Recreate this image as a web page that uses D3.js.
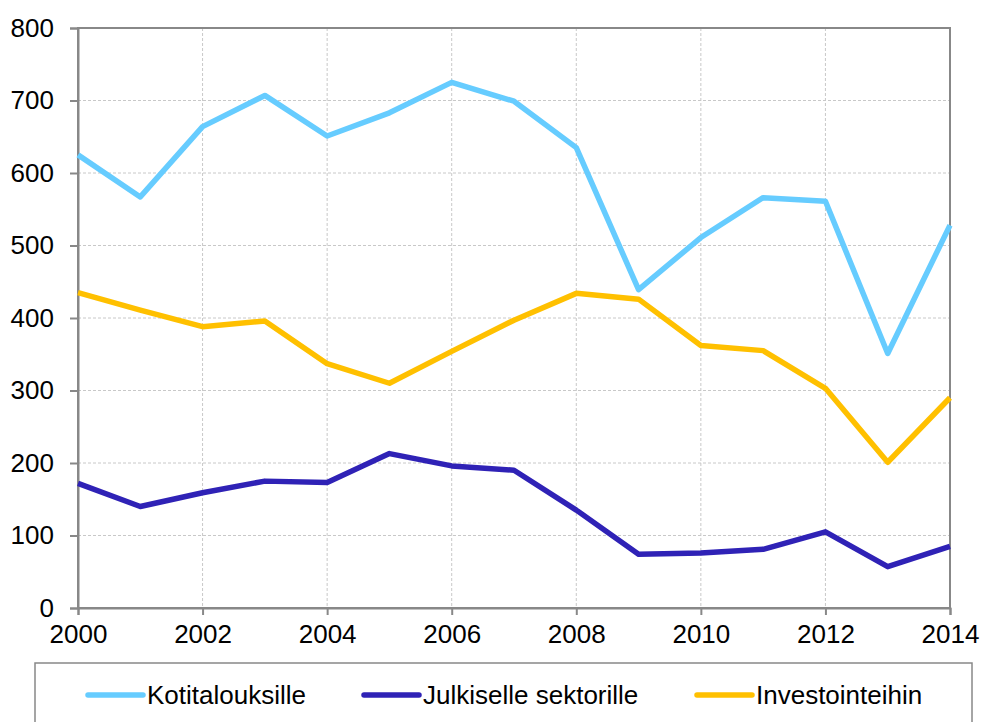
<!DOCTYPE html>
<html>
<head>
<meta charset="utf-8">
<script src="https://cdn.jsdelivr.net/npm/d3@7"></script>
<style>
  body { margin: 0; background: #fff; }
  svg { display: block; font-family: "Liberation Sans", Arial, sans-serif; }
</style>
</head>
<body>
<svg id="chart" width="982" height="722"></svg>
<script>
var years = [2000, 2001, 2002, 2003, 2004, 2005, 2006, 2007, 2008, 2009, 2010, 2011, 2012, 2013, 2014];
var kotitaloudet = [625, 567, 664, 707, 651, 683, 725, 699, 635, 439, 511, 566, 561, 351, 528];
var julkinen = [172, 140, 159, 175, 173, 213, 196, 190, 135, 74, 76, 81, 105, 57, 85];
var investoinnit = [435, 411, 388, 396, 337, 310, 354, 397, 434, 426, 362, 355, 303, 201, 290];
var seriesNames = ['Kotitalouksille', 'Julkiselle sektorille', 'Investointeihin'];
var seriesColors = ['#66CCFF', '#2F22B6', '#FFC000'];
var yTicks = [0, 100, 200, 300, 400, 500, 600, 700, 800];
var xTicks = [2000, 2002, 2004, 2006, 2008, 2010, 2012, 2014];

(function () {
  var svg = d3.select('#chart');
  var pLeft = 78, pRight = 950, pTop = 28, pBottom = 608;

  var x = d3.scaleLinear().domain([2000, 2014]).range([pLeft, pRight]);
  var y = d3.scaleLinear().domain([0, 800]).range([pBottom, pTop]);

  // grid
  svg.append('g')
    .selectAll('line')
    .data(yTicks.slice(1))
    .enter()
    .append('line')
    .attr('x1', pLeft).attr('x2', pRight)
    .attr('y1', function(d) { return y(d); })
    .attr('y2', function(d) { return y(d); })
    .attr('stroke', '#c8c8c8')
    .attr('stroke-dasharray', '3,2');
  svg.append('g')
    .selectAll('line')
    .data(xTicks.slice(1))
    .enter()
    .append('line')
    .attr('y1', pTop).attr('y2', pBottom)
    .attr('x1', function(d) { return x(d); })
    .attr('x2', function(d) { return x(d); })
    .attr('stroke', '#c8c8c8')
    .attr('stroke-dasharray', '3,2');

  // frame
  svg.append('rect')
    .attr('x', pLeft).attr('y', pTop)
    .attr('width', pRight - pLeft).attr('height', pBottom - pTop)
    .attr('fill', 'none')
    .attr('stroke', '#888')
    .attr('stroke-width', 2);

  // axes
  var yAxis = svg.append('g')
    .attr('transform', 'translate(' + pLeft + ',0)')
    .call(d3.axisLeft(y).tickValues(yTicks).tickSize(8).tickPadding(16));
  var xAxis = svg.append('g')
    .attr('transform', 'translate(0,' + pBottom + ')')
    .call(d3.axisBottom(x).tickValues(xTicks).tickFormat(d3.format('d')).tickSize(7).tickPadding(10));
  [yAxis, xAxis].forEach(function(a) {
    a.select('.domain').attr('stroke', '#888').attr('stroke-width', 2);
    a.selectAll('.tick line').attr('stroke', '#888').attr('stroke-width', 2);
    a.selectAll('.tick text')
      .attr('fill', '#000')
      .style('font-size', '26px')
      .style('font-family', '"Liberation Sans", Arial, sans-serif');
  });

  // lines
  var data = [kotitaloudet, julkinen, investoinnit];
  var line = d3.line()
    .x(function(d, i) { return x(years[i]); })
    .y(function(d) { return y(d); });
  svg.append('g')
    .selectAll('path')
    .data(data)
    .enter()
    .append('path')
    .attr('d', line)
    .attr('fill', 'none')
    .attr('stroke', function(d, i) { return seriesColors[i]; })
    .attr('stroke-width', 5.5)
    .attr('stroke-linejoin', 'round');

  // legend
  svg.append('rect')
    .attr('x', 35).attr('y', 663)
    .attr('width', 937).attr('height', 70)
    .attr('fill', '#fff')
    .attr('stroke', '#888')
    .attr('stroke-width', 1.5);
  var legendX = [88, 364, 697];
  var lg = svg.append('g')
    .selectAll('g')
    .data(seriesNames)
    .enter()
    .append('g')
    .attr('transform', function(d, i) { return 'translate(' + legendX[i] + ',695)'; });
  lg.append('line')
    .attr('x1', 0).attr('x2', 55)
    .attr('stroke', function(d, i) { return seriesColors[i]; })
    .attr('stroke-width', 5.5)
    .attr('stroke-linecap', 'round');
  lg.append('text')
    .attr('x', 59)
    .attr('y', 9)
    .style('font-size', '26px')
    .text(function(d) { return d; });
})();
</script>
</body>
</html>
